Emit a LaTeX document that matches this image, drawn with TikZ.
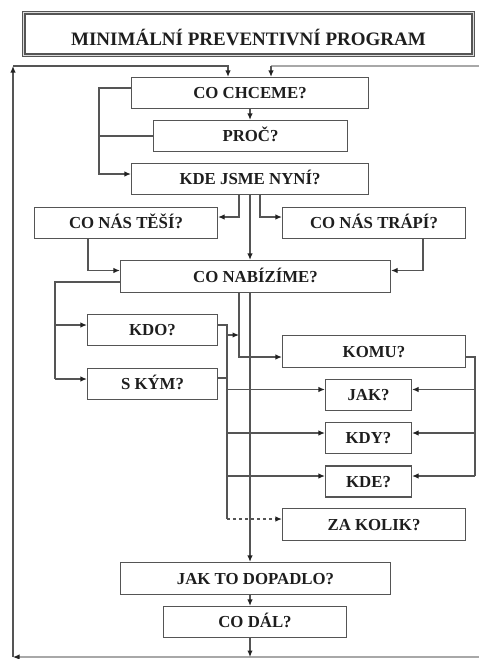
\documentclass[tikz,border=0pt]{standalone}
\usepackage{fontspec}
\setmainfont{Liberation Serif}
\usetikzlibrary{arrows.meta,calc}
\definecolor{ln}{HTML}{555555}
\definecolor{lnl}{HTML}{A8A8A8}
\definecolor{tip}{HTML}{222222}
\definecolor{tx}{HTML}{1E1E1E}
\begin{document}
\begin{tikzpicture}[x=1pt,y=-1pt,
  box/.style={draw=ln,line width=1.2pt,minimum height=31pt,inner sep=0pt,text=tx,
    font=\fontsize{16.8}{18}\selectfont\bfseries,text height=11.2pt,text depth=0pt},
  con/.style={draw=ln,line width=1.2pt},
  arr/.style={con,-{Latex[length=6.5pt,width=5.5pt,color=tip]}}]
\useasboundingbox (0,0) rectangle (479,659);
\fill[white] (0,0) rectangle (479,659);

% title
\node[draw=ln,line width=1.4pt,double=lnl!40,double distance=1.4pt,minimum width=449.5pt,minimum height=42.5pt,
  inner sep=0pt,text=tx,font=\fontsize{19}{21}\selectfont\bfseries,text height=22pt,text depth=0pt]
  (title) at (248.5,34) {MINIMÁLNÍ PREVENTIVNÍ PROGRAM};

% boxes
\node[box,minimum width=237pt] (chceme) at (250,93) {CO CHCEME?};
\node[box,minimum width=194pt] (proc) at (250.5,136) {PROČ?};
\node[box,minimum width=237pt] (kde) at (250,179) {KDE JSME NYNÍ?};
\node[box,minimum width=183pt] (tesi) at (126,223) {CO NÁS TĚŠÍ?};
\node[box,minimum width=183pt] (trapi) at (374,223) {CO NÁS TRÁPÍ?};
\node[box,minimum width=270pt,minimum height=32pt] (nabizime) at (255.5,276.5) {CO NABÍZÍME?};
\node[box,minimum width=130pt] (kdo) at (152.5,330) {KDO?};
\node[box,minimum width=130pt] (skym) at (152.5,384) {S KÝM?};
\node[box,minimum width=183pt,minimum height=32pt] (komu) at (374,351.5) {KOMU?};
\node[box,minimum width=86pt] (jak) at (368.5,395) {JAK?};
\node[box,minimum width=86pt] (kdy) at (368.5,438) {KDY?};
\node[box,minimum width=86pt] (kdeq) at (368.5,481.5) {KDE?};
\node[box,minimum width=183pt,minimum height=32pt] (zakolik) at (374,524.5) {ZA KOLIK?};
\node[box,minimum width=270pt,minimum height=32pt] (dopadlo) at (255.5,578.5) {JAK TO DOPADLO?};
\node[box,minimum width=183pt] (codal) at (255,622) {CO DÁL?};

% reference coordinates
\coordinate (BL) at (13,657);
\coordinate (BR) at (479,657);
\coordinate (TL) at (13,66);
\coordinate (TR) at (479,66);
\coordinate (S) at (250,0);
\coordinate (LB) at (99,0);
\coordinate (K1) at (239,0);
\coordinate (K2) at (260,0);
\coordinate (T1) at (88,0);
\coordinate (T2) at (423,0);
\coordinate (N1) at (55,0);
\coordinate (V) at (227,0);
\coordinate (R) at (475,0);
\coordinate (KA) at (227,335);
\coordinate (cTa) at ([xshift=-22pt]chceme.north);
\coordinate (cTb) at ([xshift=21pt]chceme.north);
\coordinate (cW) at ([yshift=5pt]chceme.west);
\coordinate (kdeW) at ([yshift=5pt]kde.west);
\coordinate (tesiE) at ([yshift=6pt]tesi.east);
\coordinate (trapiW) at ([yshift=6pt]trapi.west);
\coordinate (nabW) at ([yshift=6pt]nabizime.west);
\coordinate (nabE) at ([yshift=6pt]nabizime.east);
\coordinate (nabW2) at ([yshift=-5.5pt]nabizime.west);
\coordinate (kdoW) at ([yshift=5pt]kdo.west);
\coordinate (skymW) at ([yshift=5pt]skym.west);
\coordinate (kdoE) at ([yshift=5pt]kdo.east);
\coordinate (skymE) at ([yshift=6pt]skym.east);
\coordinate (komuW) at ([yshift=-5.5pt]komu.west);
\coordinate (komuE) at ([yshift=-5.5pt]komu.east);
\coordinate (jakW) at ([yshift=5.5pt]jak.west);
\coordinate (kdyW) at ([yshift=5pt]kdy.west);
\coordinate (kdeqW) at ([yshift=5.5pt]kdeq.west);
\coordinate (jakE) at ([yshift=5.5pt]jak.east);
\coordinate (kdyE) at ([yshift=5pt]kdy.east);
\coordinate (kdeqE) at ([yshift=5.5pt]kdeq.east);
\coordinate (zakW) at ([yshift=5.5pt]zakolik.west);

% feedback loop
\draw[arr,draw=lnl] (BR) -- (BL);
\draw[arr] (BL) -- (TL);
\draw[arr] (TL) -| (cTa);
\draw[con,draw=lnl] (TR) -- (TR -| cTb);
\draw[arr] (TR -| cTb) -- (cTb);

% top part
\draw[arr] (chceme.south -| S) -- (proc.north -| S);
\draw[arr] (cW) -- (cW -| LB) -- (kdeW -| LB) -- (kdeW);
\draw[con] (proc.west) -- (proc.west -| LB);
\draw[arr] (kde.south -| K1) |- (tesiE);
\draw[arr] (kde.south -| K2) |- (trapiW);
\draw[arr] (kde.south -| S) -- (nabizime.north -| S);
\draw[arr] (tesi.south -| T1) |- (nabW);
\draw[arr] (trapi.south -| T2) |- (nabE);

% left branch
\draw[con] (nabW2) -| (skymW -| N1);
\draw[arr] (kdoW -| N1) -- (kdoW);
\draw[arr] (skymW -| N1) -- (skymW);

% middle collector
\draw[con] (kdoE) -| (zakW -| V);
\draw[con] (skymE) -- (skymE -| V);
\draw[arr] (KA) -- (KA -| K1);
\draw[arr] (nabizime.south -| K1) |- (komuW);
\draw[arr] (jakW -| V) -- (jakW);
\draw[arr] (kdyW -| V) -- (kdyW);
\draw[arr] (kdeqW -| V) -- (kdeqW);
\draw[arr,dashed] (zakW -| V) -- (zakW);

% right collector
\draw[con] (komuE) -| (kdeqE -| R);
\draw[arr] (jakE -| R) -- (jakE);
\draw[arr] (kdyE -| R) -- (kdyE);
\draw[arr] (kdeqE -| R) -- (kdeqE);

% spine
\draw[arr] (nabizime.south -| S) -- (dopadlo.north -| S);
\draw[arr] (dopadlo.south -| S) -- (codal.north -| S);
\draw[arr] (codal.south -| S) -- (BL -| S);
\end{tikzpicture}
\end{document}
